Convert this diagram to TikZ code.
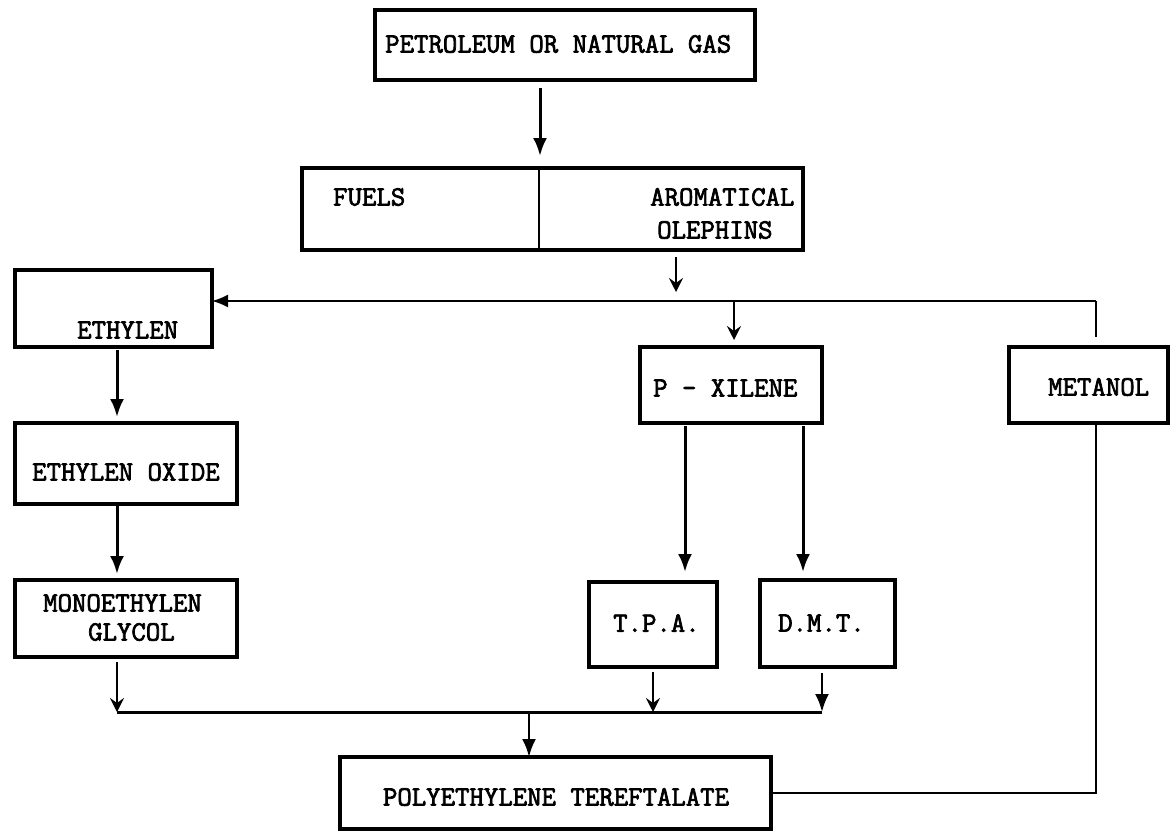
\documentclass[tikz,border=0pt]{standalone}
\usepackage{fontspec}
\newfontfamily\tw{Latin Modern Mono}[FakeBold=2.5]
\usetikzlibrary{arrows.meta}
\begin{document}
\begin{tikzpicture}[x=1pt,y=-1pt,
  box/.style={draw, line width=3.2pt, inner sep=0pt, outer sep=0pt},
  lbl/.style={inner sep=0pt, anchor=west, font=\tw\fontsize{28}{30}\selectfont},
  arr/.style={line width=3pt, -{Latex[length=18pt,width=14pt]}},
  sarr/.style={line width=2.4pt, -{Stealth[length=14pt,width=14pt,inset=5pt]}},
  thinln/.style={line width=1.8pt},
  conn/.style={line width=3pt}]
\useasboundingbox (0,0) rectangle (1174,832);
% boxes
\node[box, minimum width=380pt, minimum height=70pt] (pet) at (565,45) {};
\node[box, minimum width=501pt, minimum height=82pt] (fuels) at (552.5,209) {};
\node[box, minimum width=197pt, minimum height=77pt] (eth) at (113.5,308.5) {};
\node[box, minimum width=222pt, minimum height=81pt] (eox) at (126,463.5) {};
\node[box, minimum width=222pt, minimum height=77pt] (meg) at (126,618.5) {};
\node[box, minimum width=182pt, minimum height=76pt] (px) at (731,385) {};
\node[box, minimum width=159pt, minimum height=76pt] (met) at (1088.5,385) {};
\node[box, minimum width=128pt, minimum height=85pt] (tpa) at (653,624.5) {};
\node[box, minimum width=135pt, minimum height=87pt] (dmt) at (827.5,623.5) {};
\node[box, minimum width=431pt, minimum height=72pt] (pte) at (555.5,793) {};
% divider in fuels box
\coordinate (dv) at (539,0);
\draw[line width=2.4pt] (fuels.north -| dv) -- (fuels.south -| dv);
% texts
\node[lbl] (tpet) at (385,44) {PETROLEUM OR NATURAL GAS};
\node[lbl] (tfuel) at (333,197) {FUELS};
\node[lbl] (tarom) at (650,197) {AROMATICAL};
\node[lbl] (tolef) at (657,230) {OLEPHINS};
\node[lbl] (teth) at (77,330) {ETHYLEN};
\node[lbl] (teox) at (32,472) {ETHYLEN OXIDE};
\node[lbl] (tmeg1) at (43,603) {MONOETHYLEN};
\node[lbl] (tmeg2) at (88,632) {GLYCOL};
\node[lbl] (tpx) at (653,388) {P - XILENE};
\node[lbl] (tmet) at (1048,387) {METANOL};
\node[lbl] (ttpa) at (613,623) {T.P.A.};
\node[lbl] (tdmt) at (778,623) {D.M.T.};
\node[lbl, anchor=center] (tpte) at (556,797) {POLYETHYLENE TEREFTALATE};
% junction coordinates
\coordinate (c540) at (540,0);
\coordinate (hA) at (676,301);
\coordinate (hX) at (734,301);
\coordinate (hR) at (1096,301);
\coordinate (c117) at (117,0);
\coordinate (c685) at (685,0);
\coordinate (c803) at (803,0);
\coordinate (cL) at (117,712);
\coordinate (cT) at (653,712);
\coordinate (cD) at (822,712);
\coordinate (cP) at (529,712);
\coordinate (bR) at (1096,793);
% connectors
\draw[arr, shorten <=8pt, shorten >=12pt] (pet.south -| c540) -- (fuels.north -| c540);
\draw[sarr, shorten <=7pt, shorten >=9pt] (fuels.south -| hA) -- (hA);
\draw[thinln, -{Latex[length=16pt,width=13pt]}] (hR) -- (eth.east |- hR);
\draw[thinln, shorten >=10pt] (hR) -- (met.north -| hR);
\draw[sarr, line width=2pt, shorten >=7pt] (hX) -- (px.north -| hX);
\draw[arr, shorten <=3pt, shorten >=6pt] (eth.south -| c117) -- (eox.north -| c117);
\draw[arr, shorten <=1pt, shorten >=6pt] (eox.south -| c117) -- (meg.north -| c117);
\draw[arr, shorten <=3pt, shorten >=10pt] (px.south -| c685) -- (tpa.north -| c685);
\draw[arr, shorten <=3pt, shorten >=8pt] (px.south -| c803) -- (dmt.north -| c803);
\draw[sarr, line width=2.6pt, shorten <=5pt] (meg.south -| cL) -- (cL);
\draw[sarr, line width=2.6pt, shorten <=5pt] (tpa.south -| cT) -- (cT);
\draw[arr, line width=2.6pt, shorten <=6pt] (dmt.south -| cD) -- (cD);
\draw[conn] (cL) -- (cD);
\draw[arr, line width=2.6pt] (cP) -- (pte.north -| cP);
\draw[conn, line width=2.4pt] (pte.east |- bR) -- (bR) -- (met.south -| bR);
\end{tikzpicture}
\end{document}
